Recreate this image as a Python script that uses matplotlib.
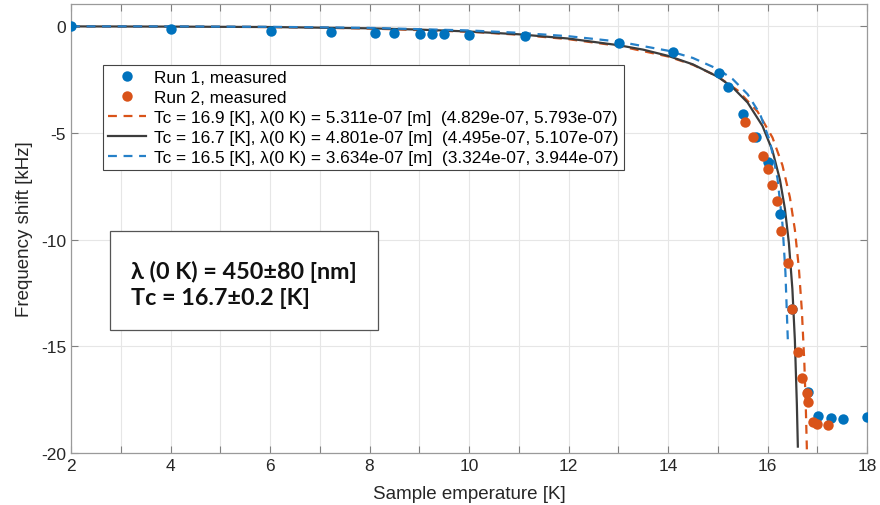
import matplotlib
matplotlib.use("Agg")
import matplotlib.pyplot as plt
from matplotlib.ticker import MultipleLocator
from matplotlib.patches import Rectangle

# ---- data ----
run1_T = [2.0, 4.0, 6.02, 7.22, 8.12, 8.5, 9.02, 9.26, 9.5, 10.0, 11.13, 13.01,
          14.11, 15.02, 15.21, 15.5, 15.77, 16.02, 16.25, 16.5, 16.82, 17.02,
          17.27, 17.51, 18.0]
run1_df = [0.0, -0.1, -0.22, -0.28, -0.31, -0.31, -0.34, -0.34, -0.34, -0.39,
           -0.47, -0.77, -1.2, -2.2, -2.84, -4.09, -5.18, -6.36, -8.8, -13.25,
           -17.16, -18.25, -18.36, -18.41, -18.3]

run2_T = [15.55, 15.71, 15.9, 16.02, 16.1, 16.2, 16.28, 16.42, 16.5, 16.62,
          16.7, 16.8, 16.81, 16.91, 17.0, 17.22]
run2_df = [-4.47, -5.18, -6.07, -6.7, -7.45, -8.18, -9.59, -11.07, -13.26,
           -15.28, -16.5, -17.2, -17.6, -18.53, -18.64, -18.69]

fit_a_T = [2, 4, 6, 8, 10, 11, 12, 13, 14, 14.5, 15, 15.4, 15.8, 16.1, 16.3,
           16.45, 16.55, 16.63, 16.69, 16.74, 16.77, 16.79, 16.8]
fit_a_df = [0.0, -0.01, -0.03, -0.10, -0.25, -0.39, -0.60, -0.91, -1.41, -1.80,
            -2.35, -3.00, -3.99, -5.21, -6.51, -8.01, -9.53, -11.32, -13.30,
            -15.74, -17.85, -19.7, -20.83]

fit_b_T = [2, 4, 6, 8, 9, 10, 11, 12, 13, 13.5, 14, 14.5, 15, 15.3, 15.6, 15.9,
           16.1, 16.25, 16.35, 16.43, 16.5, 16.55, 16.59, 16.61]
fit_b_df = [0.0, -0.01, -0.03, -0.09, -0.15, -0.24, -0.37, -0.57, -0.88, -1.09,
            -1.38, -1.78, -2.36, -2.86, -3.57, -4.67, -5.83, -7.19, -8.55,
            -10.16, -12.31, -14.70, -17.70, -19.7]

fit_c_T = [2, 4, 6, 8, 10, 11, 12, 13, 14, 14.5, 15, 15.3, 15.6, 15.85, 16.05,
           16.2, 16.3, 16.36, 16.41]
fit_c_df = [0.0, 0.0, -0.02, -0.07, -0.19, -0.30, -0.46, -0.71, -1.14, -1.48,
            -2.00, -2.47, -3.18, -4.11, -5.39, -7.12, -9.25, -11.52, -14.8]

labels = ["Run 1, measured", "Run 2, measured",
          "Tc = 16.9 [K], \u03bb(0 K) = 5.311e-07 [m]  (4.829e-07, 5.793e-07)",
          "Tc = 16.7 [K], \u03bb(0 K) = 4.801e-07 [m]  (4.495e-07, 5.107e-07)",
          "Tc = 16.5 [K], \u03bb(0 K) = 3.634e-07 [m]  (3.324e-07, 3.944e-07)"]
box_text = "\u03bb (0 K) = 450\u00b180 [nm]\nTc = 16.7\u00b10.2 [K]"
xlabel = "Sample emperature [K]"
ylabel = "Frequency shift [kHz]"

BLUE = "#0072BD"
ORANGE = "#D95319"
DBLUE = "#2680c8"
GRAY = "#3c3c3c"

plt.rcParams['font.family'] = ['Liberation Sans', 'DejaVu Sans']
plt.rcParams['axes.unicode_minus'] = False

fig = plt.figure(figsize=(8.8, 5.06), dpi=100)
ax = fig.add_axes([71/880, 1-454/506, (867-71)/880, (454-5)/506])

h1, = ax.plot(run1_T, run1_df, 'o', color=BLUE, ms=7.5, mec='none', zorder=3)
h2, = ax.plot(run2_T, run2_df, 'o', color=ORANGE, ms=7.5, mec='none', zorder=4)
h3, = ax.plot(fit_a_T, fit_a_df, '--', color=ORANGE, lw=1.6, dashes=(4, 3), zorder=2)
h4, = ax.plot(fit_b_T, fit_b_df, '-', color=GRAY, lw=1.6, zorder=2)
h5, = ax.plot(fit_c_T, fit_c_df, '--', color=DBLUE, lw=1.6, dashes=(4, 3), zorder=2)

ax.set_xlim(2, 18)
ax.set_ylim(-20, 1.05)
ax.xaxis.set_major_locator(MultipleLocator(2))
ax.xaxis.set_minor_locator(MultipleLocator(1))
ax.yaxis.set_major_locator(MultipleLocator(5))
ax.grid(True, which='both', axis='x', color='#e6e6e6', lw=0.8)
ax.grid(True, which='major', axis='y', color='#e6e6e6', lw=0.8)
ax.set_axisbelow(True)
ax.tick_params(which='both', direction='in', top=True, right=True,
               labelsize=12.5, labelcolor='#262626', color='#808080',
               length=5, width=0.8)
for s in ax.spines.values():
    s.set_color('#9a9a9a')
    s.set_linewidth(0.9)

ax.set_xlabel(xlabel, fontsize=13.5, color='#262626', labelpad=9)
ax.set_ylabel(ylabel, fontsize=13.5, color='#262626', labelpad=6)

leg = ax.legend([h1, h2, h3, h4, h5], labels, loc='upper left',
                bbox_to_anchor=((103-71)/796, 1-(66-5)/449), fontsize=12.45,
                frameon=True, fancybox=False, edgecolor='#444444',
                handlelength=2.2, handletextpad=0.45, labelspacing=0.28,
                borderpad=0.3, borderaxespad=0, framealpha=1)
leg.get_frame().set_linewidth(0.8)

# text box
ax.add_patch(Rectangle(((110-71)/796, 1-(331-5)/449), (378-110)/796,
                       (331-232)/449, transform=ax.transAxes, fc='white',
                       ec='#555555', lw=0.9, zorder=5))
ax.text((131-71)/796, 1-(285-5)/449, box_text, transform=ax.transAxes,
        fontsize=16.8, fontweight='bold', family=['Lato', 'DejaVu Sans'],
        va='center', ha='left', linespacing=1.3, color='#111111', zorder=6)

fig.savefig("out.png", dpi=100)
